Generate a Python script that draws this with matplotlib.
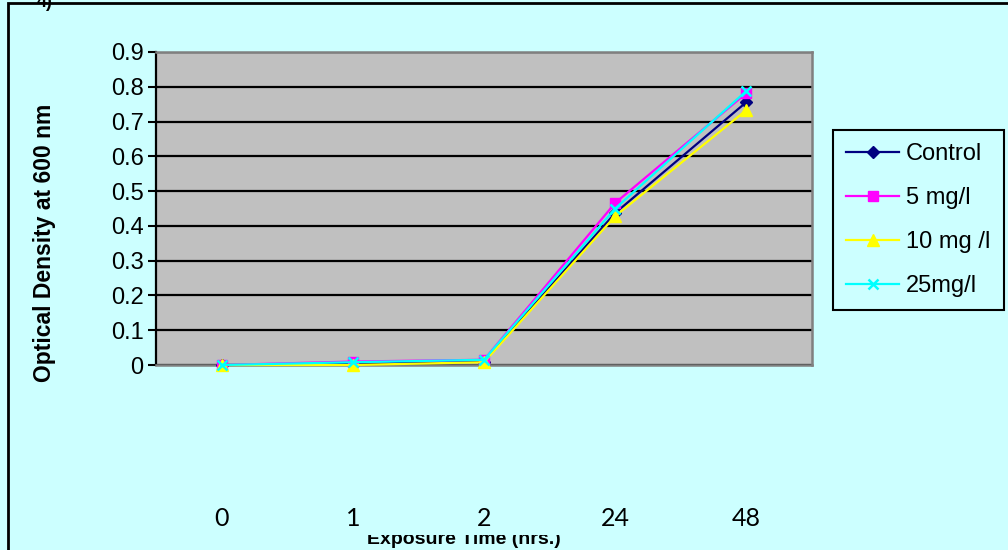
import matplotlib
matplotlib.use("Agg")
import matplotlib.pyplot as plt
from matplotlib.patches import Rectangle

# data
times = ["0", "1", "2", "24", "48"]
control = [0.0, 0.003, 0.01, 0.437, 0.756]
mg5 = [0.0, 0.01, 0.015, 0.466, 0.782]
mg10 = [0.0, 0.0, 0.008, 0.428, 0.733]
mg25 = [0.0, 0.008, 0.015, 0.45, 0.788]

series = [
    ("Control", control, "#000080", "D", 6.5),
    ("5 mg/l", mg5, "#FF00FF", "s", 7),
    ("10 mg /l", mg10, "#FFFF00", "^", 8.5),
    ("25mg/l", mg25, "#00FFFF", "x", 7),
]

BG = "#CCFFFF"
W, H = 1008, 550

plt.rcParams["font.family"] = ["Liberation Sans", "DejaVu Sans"]

fig = plt.figure(figsize=(W / 100, H / 100), dpi=100)
fig.patch.set_facecolor(BG)

# outer chart border (right/bottom run off the image)
fig.add_artist(Rectangle((8 / W, -0.2), 1.2, 1.2 - 3 / H, transform=fig.transFigure,
                         fill=False, edgecolor="black", lw=2, zorder=-3))

# x title, partly hidden behind the tick label box
fig.text(464 / W, 1 - 539 / H, "Exposure Time (hrs.)", fontsize=14, fontweight="bold",
         ha="center", va="center", zorder=-2)
fig.add_artist(Rectangle((300 / W, 1 - 535 / H), 300 / W, 30 / H, transform=fig.transFigure,
                         facecolor=BG, edgecolor="none", zorder=-1))

ax = fig.add_axes([156 / W, 1 - 365 / H, (812 - 156) / W, (365 - 52) / H])
ax.set_facecolor("#C0C0C0")

x = range(len(times))
for name, vals, col, mk, ms in series:
    ax.plot(x, vals, color=col, lw=1.6, marker=mk, markersize=ms,
            markerfacecolor=col, markeredgecolor=col,
            markeredgewidth=1.8 if mk == "x" else 1,
            label=name, zorder=3, clip_on=False)

ax.set_xlim(-0.5, len(times) - 0.5)
ax.set_ylim(0, 0.9)
ax.set_yticks([i / 10 for i in range(10)])
ax.set_yticklabels(["0"] + [f"{i / 10:.1f}" for i in range(1, 10)], fontsize=17)
ax.yaxis.grid(True, color="black", lw=1.6)
ax.set_axisbelow(True)
ax.tick_params(axis="y", direction="out", length=6, width=1.5, color="black", pad=3)

ax.set_xticks(list(x))
ax.set_xticklabels(times, fontsize=18, family="Lato")
ax.tick_params(axis="x", length=0, pad=102)

for s in ["top", "right", "bottom"]:
    ax.spines[s].set_color("#808080")
    ax.spines[s].set_linewidth(1.8)
ax.spines["left"].set_color("black")
ax.spines["left"].set_linewidth(1.6)

fig.text(45 / W, 1 - 243 / H, "Optical Density at 600 nm", fontsize=16.5,
         fontweight="bold", rotation=90, ha="center", va="center")

fig.text(45 / W, 0.995, "4)", fontsize=13, fontweight="bold", ha="center", va="center")

leg = ax.legend(loc="upper left", bbox_to_anchor=(833 / W, 1 - 130 / H),
                bbox_transform=fig.transFigure, fontsize=17, frameon=True,
                fancybox=False, handlelength=2.25, labelspacing=0.93,
                borderpad=0.55, borderaxespad=0, handletextpad=0.3)
leg.get_frame().set_facecolor(BG)
leg.get_frame().set_edgecolor("black")
leg.get_frame().set_linewidth(1.5)
leg.get_frame().set_alpha(1)

fig.savefig("out.png", dpi=100, facecolor=BG)
